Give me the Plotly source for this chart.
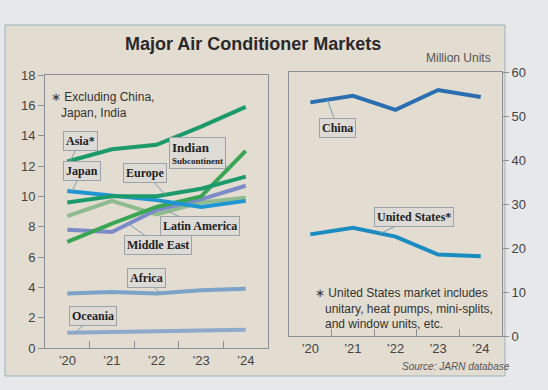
import plotly.graph_objects as go

W, H = 548, 390

years = ["’20", "’21", "’22", "’23", "’24"]
xi = [0, 1, 2, 3, 4]

# Left panel (Million Units)
asia = [12.3, 13.1, 13.4, 14.6, 15.9]
indian = [7.0, 8.2, 9.3, 10.0, 13.0]
europe = [9.6, 10.0, 10.0, 10.5, 11.3]
middle_east = [7.8, 7.65, 9.1, 9.8, 10.7]
latin_america = [8.7, 9.7, 8.8, 9.6, 9.9]
japan = [10.35, 10.05, 9.75, 9.3, 9.7]
africa = [3.6, 3.7, 3.6, 3.8, 3.9]
oceania = [1.0, 1.05, 1.1, 1.15, 1.2]

# Right panel
china = [53.1, 54.6, 51.4, 55.9, 54.3]
united_states = [23.1, 24.6, 22.6, 18.5, 18.1]

left_series = [
    ("Oceania", oceania, "#8ea9c9"),
    ("Africa", africa, "#7ba3c8"),
    ("Latin America", latin_america, "#8fbb8f"),
    ("Middle East", middle_east, "#7b8bc8"),
    ("Indian Subcontinent", indian, "#3aa655"),
    ("Japan", japan, "#1f96d4"),
    ("Europe", europe, "#1d9a6c"),
    ("Asia", asia, "#1d9a6c"),
]
right_series = [
    ("China", china, "#2b6fb0"),
    ("United States", united_states, "#1a8cc2"),
]

def px(v):
    return v / W

def py(v):
    return 1 - v / H

fig = go.Figure()
for name, vals, col in left_series:
    fig.add_trace(go.Scatter(x=xi, y=vals, mode="lines", name=name,
                             line=dict(color=col, width=4), xaxis="x", yaxis="y"))
for name, vals, col in right_series:
    fig.add_trace(go.Scatter(x=xi, y=vals, mode="lines", name=name,
                             line=dict(color=col, width=4), xaxis="x2", yaxis="y2"))

axcol = "#8a9096"
tickfont = dict(family="Liberation Sans, Arial, sans-serif", size=13, color="#444")
common_x = dict(range=[-0.5, 4.5], tickvals=xi, ticktext=years, ticks="",
                showgrid=False, zeroline=False, showline=True, mirror=True,
                linecolor=axcol, linewidth=1, tickfont=tickfont, fixedrange=True,
                automargin=False,
                minor=dict(tickvals=[0.5, 1.5, 2.5, 3.5], ticks="inside",
                           ticklen=7, tickcolor=axcol, showgrid=False))

fig.update_layout(
    width=W, height=H,
    autosize=False,
    margin=dict(l=0, r=0, t=0, b=0, pad=0, autoexpand=False),
    paper_bgcolor="#e6e8ea",
    plot_bgcolor="#eaedf1",
    showlegend=False,
    xaxis=dict(domain=[px(45), px(268)], anchor="y", **common_x),
    yaxis=dict(domain=[py(348), py(75)], anchor="x", range=[0, 18], dtick=2,
               ticks="outside", ticklen=6, tickcolor=axcol, showgrid=False,
               zeroline=False, showline=True, mirror=True, linecolor=axcol,
               tickfont=tickfont, automargin=False),
    xaxis2=dict(domain=[px(289), px(502)], anchor="y2", **common_x),
    yaxis2=dict(domain=[py(336), py(72)], anchor="x2", side="right", range=[0, 60],
                dtick=10, ticks="outside", ticklen=6, tickcolor=axcol, showgrid=False,
                zeroline=False, showline=True, mirror=True, linecolor=axcol,
                tickfont=tickfont, automargin=False),
)

fig.add_shape(type="rect", xref="paper", yref="paper",
              x0=px(5), x1=px(505), y0=py(376), y1=py(25),
              fillcolor="#e3dcd0", line=dict(color="#93b4bf", width=1), layer="below")

sans = "Liberation Sans, Arial, sans-serif"
serif = "Liberation Serif, Times New Roman, serif"

def note(x, y, text, size, color, xanchor="center", yanchor="middle"):
    fig.add_annotation(xref="paper", yref="paper", x=px(x), y=py(y), xanchor=xanchor,
                       yanchor=yanchor, align="left", showarrow=False, text=text,
                       font=dict(family=sans, size=size, color=color))

note(253, 44, "<b>Major Air Conditioner Markets</b>", 18, "#2a2a2a")
note(493, 58, "Million Units", 12, "#555", xanchor="right")
note(512, 366, "<i>Source: JARN database</i>", 10, "#555", xanchor="right")
note(49, 88, "∗ Excluding China,<br>   Japan, India", 12, "#333", xanchor="left", yanchor="top")
note(313, 284, "∗ United States market includes<br>   unitary, heat pumps, mini-splits,<br>   and window units, etc.",
     12, "#333", xanchor="left", yanchor="top")

def interp(vals, x):
    i = min(int(x), 3)
    f = x - i
    return vals[i] * (1 - f) + vals[i + 1] * f

callouts = [
    ("x", "y", "<b>Asia*</b>", asia, 0.07, 10, -20, 12),
    ("x", "y", "<b>Japan</b>", japan, 0.1, 10, -20, 12),
    ("x", "y", "<b>Europe</b>", europe, 2.2, -20, -22, 12),
    ("x", "y", "<b><span style='font-size:13px'>Indian</span></b><br><b>Subcontinent</b>", indian, 3.63, -32, -15, 9),
    ("x", "y", "<b>Latin America</b>", latin_america, 2.26, 32, 15, 12),
    ("x", "y", "<b>Middle East</b>", middle_east, 1.37, 30, 21, 12),
    ("x", "y", "<b>Africa</b>", africa, 2.08, -14, -15, 12),
    ("x", "y", "<b>Oceania</b>", oceania, 0.18, 18, -17, 12),
    ("x2", "y2", "<b>China</b>", china, 0.4, 10, 28, 12),
    ("x2", "y2", "<b>United States*</b>", united_states, 1.64, 34, -16, 12),
]
for xr, yr, txt, vals, xv, ax, ay, fs in callouts:
    fig.add_annotation(xref=xr, yref=yr, x=xv, y=interp(vals, xv), ax=ax, ay=ay,
                       text=txt, align="left",
                       bgcolor="#dedbd6", bordercolor="#9aa3aa", borderwidth=1, borderpad=2,
                       showarrow=True, arrowhead=0, arrowwidth=1, arrowcolor="#7d9fb0",
                       font=dict(family=serif, size=fs, color="#222"))

fig.write_html("out.html", config={"displayModeBar": False},
               post_script="document.body.style.margin='0';document.body.style.overflow='hidden';")
